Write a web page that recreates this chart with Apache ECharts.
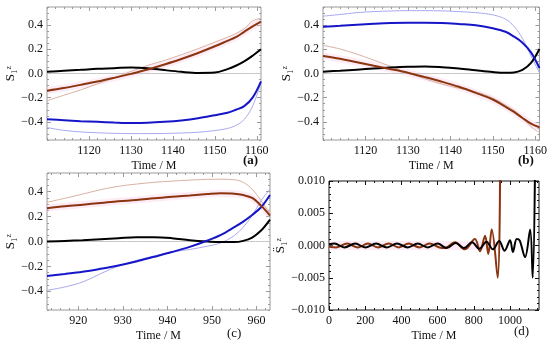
<!DOCTYPE html>
<html><head><meta charset="utf-8">
<script src="https://cdn.jsdelivr.net/npm/echarts@6/dist/echarts.min.js"></script>
<style>html,body{margin:0;padding:0;background:#fff}#c{width:550px;height:346px}</style>
</head><body><div id="c"></div>
<script>
// ---------------- data ----------------
const timeAB = [1110,1114,1118,1122,1126,1130,1134,1138,1142,1146,1150,1153,1155,1157,1159,1161];
const blackA = [0.014,0.022,0.030,0.039,0.044,0.050,0.044,0.028,0.014,0.005,0.008,0.036,0.064,0.100,0.147,0.200];
const brownA = [-0.142,-0.120,-0.094,-0.067,-0.036,-0.003,0.033,0.075,0.120,0.170,0.225,0.270,0.300,0.345,0.390,0.430];
const brownThinA = [-0.225,-0.180,-0.136,-0.086,-0.036,0.017,0.067,0.108,0.155,0.205,0.260,0.300,0.330,0.370,0.435,0.455];
const blueA = [-0.378,-0.386,-0.394,-0.400,-0.406,-0.410,-0.408,-0.400,-0.388,-0.370,-0.345,-0.325,-0.300,-0.270,-0.200,-0.065];
const blueThinA = [-0.447,-0.470,-0.483,-0.490,-0.495,-0.497,-0.497,-0.496,-0.492,-0.486,-0.472,-0.455,-0.430,-0.380,-0.270,-0.075];

const blackB = [0.015,0.023,0.032,0.041,0.049,0.055,0.058,0.052,0.041,0.026,0.012,0.006,0.009,0.029,0.087,0.203];
const blueB = [0.387,0.395,0.404,0.412,0.418,0.420,0.420,0.418,0.410,0.400,0.375,0.345,0.305,0.255,0.175,0.045];
const blueThinB = [0.474,0.488,0.503,0.512,0.517,0.520,0.520,0.518,0.512,0.503,0.485,0.450,0.390,0.290,0.145,0.006];
const brownB = [0.145,0.122,0.093,0.064,0.036,0.006,-0.030,-0.068,-0.110,-0.160,-0.215,-0.275,-0.318,-0.368,-0.415,-0.445];
const brownThinB = [0.233,0.203,0.160,0.110,0.058,0.006,-0.044,-0.087,-0.122,-0.151,-0.203,-0.262,-0.305,-0.363,-0.440,-0.488];

const timeC = [913,917,921,925,929,933,937,941,945,949,952,955,957,959,961,963];
const blackC = [0.000,0.005,0.011,0.019,0.027,0.035,0.035,0.027,0.011,0.000,-0.005,-0.005,0.005,0.032,0.088,0.176];
const brownC = [0.267,0.283,0.296,0.309,0.323,0.333,0.347,0.360,0.370,0.381,0.387,0.384,0.373,0.350,0.288,0.208];
const brownThinC = [0.315,0.347,0.381,0.416,0.443,0.461,0.475,0.485,0.493,0.499,0.500,0.496,0.475,0.420,0.328,0.221];
const blueC = [-0.277,-0.261,-0.243,-0.219,-0.192,-0.160,-0.123,-0.085,-0.043,0.008,0.053,0.115,0.160,0.213,0.275,0.373];
const blueThinC = [-0.392,-0.365,-0.325,-0.259,-0.197,-0.152,-0.117,-0.085,-0.064,-0.037,-0.011,0.048,0.115,0.208,0.328,0.421];

const timeBlackD = [0,30,85,145,200,260,320,375,435,490,545,600,650,700,745,790,830,870,905,940,970,1000,1016,1037,1053,1083,1111,1125,1138];
const blackD = [0.0002,0.0003,-0.0003,0.0003,-0.0003,0.0003,-0.0003,0.0003,-0.0003,0.0003,-0.0003,0.0003,-0.0004,0.0004,-0.0004,0.0005,-0.0005,0.0006,-0.0006,0.0007,-0.0008,0.0008,-0.0010,0.0010,0.0008,-0.0018,0.0025,-0.0050,0.0120];
const timeBrownD = [0,40,100,160,215,270,330,385,440,500,555,610,640,696,750,806,834,862,880,899,932,945];
const brownD = [-0.0002,-0.0003,0.0003,-0.0003,0.0003,-0.0003,0.0003,-0.0003,0.0003,-0.0003,0.0003,-0.0003,-0.0004,0.0005,-0.0006,0.0010,-0.0009,0.0015,-0.0013,0.0025,-0.0050,0.0120];

const zeroLine = [0, 0];
const spanAB = [1110, 1161];
const spanC = [913, 963];
const bandD = [0, 955];

const xTicksAB = [1120,1130,1140,1150,1160];
const xTicksC = [920,930,940,950,960];
const yTicksABC = [-0.4,-0.2,0,0.2,0.4];
const xTicksD = [0,200,400,600,800,1000];
const yTicksD = [-0.01,-0.005,0,0.005,0.01];

// ---------------- styling / assembly ----------------
const FONT = 'Liberation Serif';
const C = {black:'#000000', blue:'#1616c8', brown:'#8a3510', blueThin:'#aaaaee', brownThin:'#d8b2a4', zero:'#c8c8c8', pink:'rgba(250,200,225,0.35)'};
function fmtX(v){ return String(Math.round(v)); }
function fmtY1(v){ return (v<0?'\u2212':'') + Math.abs(v).toFixed(1); }
function fmtY3(v){ return (v<0?'\u2212':'') + Math.abs(v).toFixed(3); }
function range(a,b,s){ const r=[]; for(let v=a; v<=b+1e-9; v+=s) r.push(+v.toFixed(6)); return r; }

const grids=[], xAxes=[], yAxes=[], series=[];
function panel(g, xr, yr, xMaj, xMinStep, yMaj, yMinStep, yfmt, frame, yName, yGap){
  const gi = grids.length;
  grids.push(Object.assign({show:true, borderColor:frame, borderWidth:1, backgroundColor:'transparent', containLabel:false}, g));
  const xMinor = range(Math.ceil(xr[0]/xMinStep)*xMinStep, xr[1], xMinStep);
  const yMinor = range(Math.ceil(yr[0]/yMinStep-1e-9)*yMinStep, yr[1], yMinStep);
  const base = {gridIndex:gi, type:'value', splitLine:{show:false}, axisLine:{show:false, onZero:false}};
  const xi = xAxes.length, yi = yAxes.length;
  const lbl = {fontFamily:FONT, fontSize:12, color:'#111'};
  xAxes.push(Object.assign({}, base, {min:xr[0], max:xr[1], position:'bottom',
    axisTick:{show:true, inside:true, length:4, customValues:xMaj, lineStyle:{color:frame}},
    axisLabel:Object.assign({customValues:xMaj, margin:5, formatter:fmtX}, lbl),
    name:'Time / M', nameLocation:'middle', nameGap:20, nameTextStyle:{fontFamily:FONT, fontSize:12, color:'#111'}}));
  xAxes.push(Object.assign({}, base, {min:xr[0], max:xr[1], position:'bottom', axisLabel:{show:false},
    axisTick:{show:true, inside:true, length:2, customValues:xMinor, lineStyle:{color:frame}}}));
  xAxes.push(Object.assign({}, base, {min:xr[0], max:xr[1], position:'top', axisLabel:{show:false},
    axisTick:{show:true, inside:true, length:4, customValues:xMaj, lineStyle:{color:frame}}}));
  xAxes.push(Object.assign({}, base, {min:xr[0], max:xr[1], position:'top', axisLabel:{show:false},
    axisTick:{show:true, inside:true, length:2, customValues:xMinor, lineStyle:{color:frame}}}));
  yAxes.push(Object.assign({}, base, {min:yr[0], max:yr[1], position:'left',
    axisTick:{show:true, inside:true, length:4, customValues:yMaj, lineStyle:{color:frame}},
    axisLabel:Object.assign({customValues:yMaj, margin:4, formatter:yfmt}, lbl),
    name:yName, nameLocation:'middle', nameGap:yGap, nameRotate:90, nameTextStyle:{fontFamily:FONT, fontSize:13, color:'#111'}}));
  yAxes.push(Object.assign({}, base, {min:yr[0], max:yr[1], position:'left', axisLabel:{show:false},
    axisTick:{show:true, inside:true, length:2, customValues:yMinor, lineStyle:{color:frame}}}));
  yAxes.push(Object.assign({}, base, {min:yr[0], max:yr[1], position:'right', axisLabel:{show:false},
    axisTick:{show:true, inside:true, length:4, customValues:yMaj, lineStyle:{color:frame}}}));
  yAxes.push(Object.assign({}, base, {min:yr[0], max:yr[1], position:'right', axisLabel:{show:false},
    axisTick:{show:true, inside:true, length:2, customValues:yMinor, lineStyle:{color:frame}}}));
  return {xi, yi};
}
function line(p, xs, ys, color, width, name, extra){
  series.push(Object.assign({type:'line', name, xAxisIndex:p.xi, yAxisIndex:p.yi,
    data: xs.map((x,k)=>[x, ys[k]]), showSymbol:false, symbol:'none', smooth:0.35, clip:true,
    lineStyle:{color, width}, itemStyle:{color}, silent:true, animation:false}, extra||{}));
}

const S1z = 'S\u2081\u1DBB';
const pa = panel({left:47, top:7, width:214, height:133}, [1110,1161], [-0.55,0.55], xTicksAB, 2, yTicksABC, 0.05, fmtY1, '#9a9a9a', S1z, 25);
const pb = panel({left:323, top:7, width:219, height:133}, [1110,1161], [-0.55,0.55], xTicksAB, 2, yTicksABC, 0.05, fmtY1, '#9a9a9a', S1z, 25);
const pc = panel({left:47, top:173, width:223, height:137}, [913,963], [-0.55,0.55], xTicksC, 2, yTicksABC, 0.05, fmtY1, '#9a9a9a', S1z, 25);
const pd = panel({left:329, top:181, width:210, height:129}, [0,1160], [-0.01,0.01], xTicksD, 50, yTicksD, 0.001, fmtY3, '#111111', 'S\u0308\u2081\u1DBB', 37);

// panel a
line(pa, timeAB, brownA, C.pink, 7, 'band a');
line(pa, spanAB, zeroLine, C.zero, 1, 'zero a');
line(pa, timeAB, brownThinA, C.brownThin, 1, 'brown thin a');
line(pa, timeAB, blueThinA, C.blueThin, 1, 'blue thin a');
line(pa, timeAB, blackA, C.black, 2, 'black a');
line(pa, timeAB, blueA, C.blue, 2, 'blue a');
line(pa, timeAB, brownA, C.brown, 2, 'brown a');
// panel b
line(pb, timeAB, brownB, C.pink, 7, 'band b');
line(pb, spanAB, zeroLine, C.zero, 1, 'zero b');
line(pb, timeAB, brownThinB, C.brownThin, 1, 'brown thin b');
line(pb, timeAB, blueThinB, C.blueThin, 1, 'blue thin b');
line(pb, timeAB, blackB, C.black, 2, 'black b');
line(pb, timeAB, blueB, C.blue, 2, 'blue b');
line(pb, timeAB, brownB, C.brown, 2, 'brown b');
// panel c
line(pc, timeC, brownC, C.pink, 7, 'band c');
line(pc, spanC, zeroLine, C.zero, 1, 'zero c');
line(pc, timeC, brownThinC, C.brownThin, 1, 'brown thin c');
line(pc, timeC, blueThinC, C.blueThin, 1, 'blue thin c');
line(pc, timeC, blackC, C.black, 2, 'black c');
line(pc, timeC, blueC, C.blue, 2, 'blue c');
line(pc, timeC, brownC, C.brown, 2, 'brown c');
// panel d
line(pd, bandD, zeroLine, C.pink, 9, 'band d');
line(pd, timeBrownD, brownD, C.brown, 2, 'brown d');
line(pd, timeBlackD, blackD, C.black, 2, 'black d');

const chart = echarts.init(document.getElementById('c'), null, {renderer:'canvas'});
chart.setOption({
  animation:false,
  backgroundColor:'#ffffff',
  grid:grids, xAxis:xAxes, yAxis:yAxes, series,
  graphic:[
    {type:'text', left:243, top:154, style:{text:'(a)', font:'bold 13px "Liberation Serif"', fill:'#111'}},
    {type:'text', left:518, top:154, style:{text:'(b)', font:'bold 13px "Liberation Serif"', fill:'#111'}},
    {type:'text', left:227, top:327, style:{text:'(c)', font:'13px "Liberation Serif"', fill:'#111'}},
    {type:'text', left:514, top:325, style:{text:'(d)', font:'13px "Liberation Serif"', fill:'#111'}}
  ]
});
</script></body></html>
